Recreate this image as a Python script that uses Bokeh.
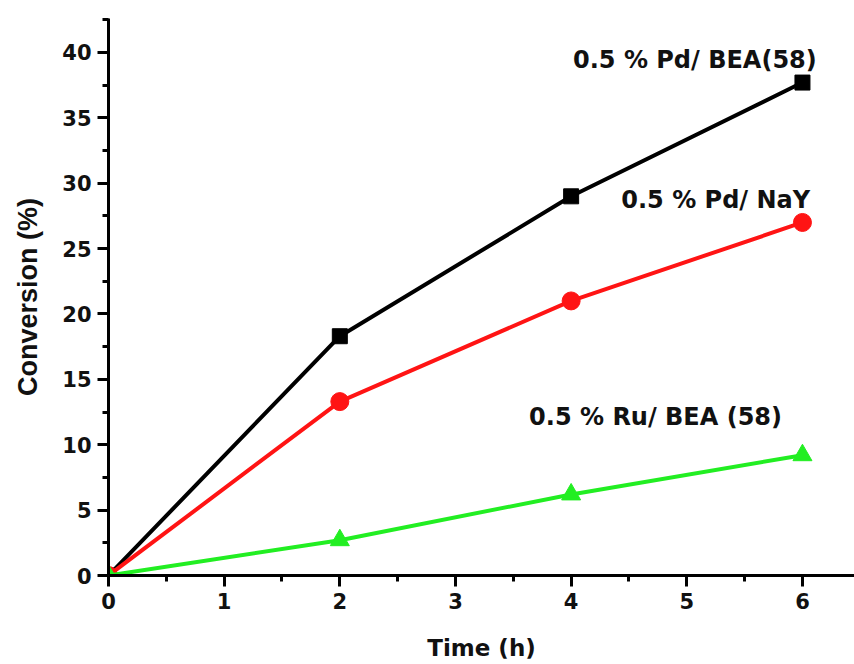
from bokeh.plotting import figure
from bokeh.models import ColumnDataSource, Range1d, FixedTicker
from bokeh.core.properties import value
from bokeh.embed import file_html
from bokeh.resources import INLINE

# Data
time_h = [0, 2, 4, 6]
pd_bea = [0, 18.3, 29.0, 37.7]
pd_nay = [0, 13.3, 21.0, 27.0]
ru_bea = [0, 2.7, 6.2, 9.2]

series_names = ["0.5 % Pd/ BEA(58)", "0.5 % Pd/ NaY", "0.5 % Ru/ BEA (58)"]
label_x = [5.07, 5.25, 4.73]
label_y = [39.4, 28.7, 12.1]

x_ticks = [0, 1, 2, 3, 4, 5, 6]
y_ticks = [0, 5, 10, 15, 20, 25, 30, 35, 40]

FONT = "DejaVu Sans"
YFONT = "Liberation Sans"

p = figure(width=854, height=664, output_backend="svg", toolbar_location=None,
           x_range=Range1d(0, 6.45), y_range=Range1d(0, 42.6),
           min_border_left=108, min_border_right=0, min_border_top=18,
           min_border_bottom=89)
p.outline_line_color = None
p.xgrid.visible = False
p.ygrid.visible = False
p.background_fill_color = "white"
p.border_fill_color = "white"

for ax in (p.xaxis[0], p.yaxis[0]):
    ax.axis_line_width = 3
    ax.axis_line_color = "black"
    ax.major_tick_line_width = 3
    ax.minor_tick_line_width = 3
    ax.major_tick_in = 0
    ax.minor_tick_in = 0
    ax.major_tick_out = 11
    ax.minor_tick_out = 6
    ax.major_label_text_font = FONT
    ax.major_label_text_font_style = "bold"
    ax.major_label_text_font_size = "21px"
    ax.major_label_text_color = "#111111"
    ax.axis_label_text_font_style = "bold"
    ax.axis_label_text_color = "#111111"

p.xaxis[0].axis_label_text_font = FONT
p.xaxis[0].axis_label_text_font_size = "23px"
p.yaxis[0].axis_label_text_font = YFONT
p.yaxis[0].axis_label_text_font_size = "27px"

p.xaxis[0].ticker = FixedTicker(ticks=x_ticks, minor_ticks=[t + 0.5 for t in x_ticks])
p.yaxis[0].ticker = FixedTicker(ticks=y_ticks, minor_ticks=[t + 2.5 for t in y_ticks])
p.xaxis[0].axis_label = "Time (h)"
p.yaxis[0].axis_label = "Conversion (%)"
p.xaxis[0].major_label_standoff = 6
p.yaxis[0].major_label_standoff = 6
p.xaxis[0].axis_label_standoff = 23
p.yaxis[0].axis_label_standoff = 16

black = "#000000"
red = "#ff1414"
green = "#22ee22"

p.line(time_h, pd_bea, line_color=black, line_width=4)
p.scatter(time_h, pd_bea, marker="square", size=15, fill_color=black, line_color=black)
p.line(time_h, pd_nay, line_color=red, line_width=4)
p.scatter(time_h, pd_nay, marker="circle", size=18, fill_color=red, line_color=red)
p.line(time_h, ru_bea, line_color=green, line_width=4)
p.scatter(time_h, ru_bea, marker="triangle", size=19, fill_color=green, line_color=green)

src = ColumnDataSource(dict(x=label_x, y=label_y, t=series_names))
p.text(x="x", y="y", text="t", source=src, text_font=value(FONT),
       text_font_style="bold", text_font_size="24px", text_color="#111111",
       text_align="center", text_baseline="alphabetic")

open("out.html", "w").write(file_html(p, INLINE))
